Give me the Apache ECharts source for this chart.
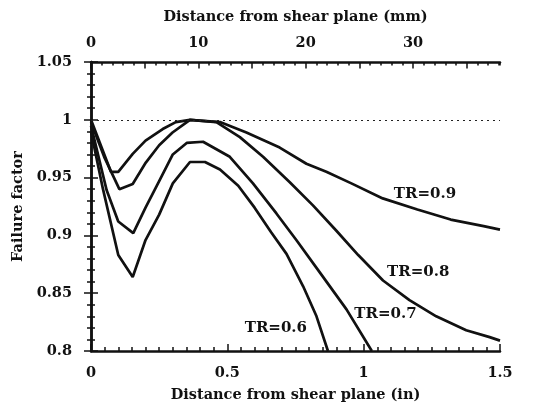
<!DOCTYPE html>
<html>
<head>
<meta charset="utf-8">
<script src="https://cdn.jsdelivr.net/npm/echarts@6/dist/echarts.min.js"></script>
<style>
html,body{margin:0;padding:0;background:#fff;}
#c{width:538px;height:409px;}
</style>
</head>
<body>
<div id="c"></div>
<script>
// ---- data ----
const seriesNames = ['TR=0.9', 'TR=0.8', 'TR=0.7', 'TR=0.6'];
const tr09 = [[0,1.0],[0.073,0.955],[0.1,0.955],[0.153,0.9705],[0.2,0.982],[0.263,0.992],[0.311,0.998],[0.363,1.0],[0.473,0.998],[0.57,0.989],[0.692,0.976],[0.79,0.962],[0.863,0.955],[0.955,0.945],[1.07,0.932],[1.197,0.9224],[1.319,0.9137],[1.44,0.908],[1.5,0.905]];
const tr08 = [[0,0.998],[0.05,0.967],[0.104,0.94],[0.153,0.9445],[0.201,0.963],[0.25,0.978],[0.299,0.989],[0.363,1.0],[0.46,0.998],[0.546,0.985],[0.631,0.968],[0.729,0.946],[0.814,0.926],[0.9,0.904],[0.98,0.883],[1.071,0.861],[1.168,0.844],[1.266,0.830],[1.376,0.818],[1.462,0.812],[1.5,0.809]];
const tr07 = [[0,0.995],[0.0575,0.939],[0.1,0.912],[0.155,0.902],[0.2,0.924],[0.25,0.947],[0.3,0.97],[0.351,0.98],[0.411,0.981],[0.509,0.968],[0.594,0.945],[0.68,0.919],[0.753,0.896],[0.839,0.868],[0.937,0.836],[1.03,0.80]];
const tr06 = [[0,0.99],[0.044,0.94],[0.1,0.883],[0.153,0.864],[0.2,0.896],[0.25,0.918],[0.3,0.945],[0.363,0.9635],[0.418,0.9635],[0.473,0.957],[0.54,0.943],[0.6,0.924],[0.66,0.903],[0.717,0.884],[0.778,0.856],[0.827,0.830],[0.869,0.80]];
const seriesData = [tr09, tr08, tr07, tr06];
// label anchor points (data coordinates) for the curve annotations
const labelAnchors = [[1.225,0.9356],[1.2,0.868],[1.08,0.832],[0.678,0.820]];
const refLineValue = 1.0;
const yTicks = {min:0.8, max:1.05, interval:0.05};
const xInTicks = {min:0, max:1.5, interval:0.5};
const xMmTicks = {min:0, max:38.1, interval:5, minorInterval:1};
const xMmLabels = [0, 10, 20, 30];

// ---- chart ----
const FONT = 'DejaVu Serif';
const txt = {fontFamily: FONT, fontSize: 14.5, fontWeight: 'bold', color: '#111'};
const axisLine = {show: true, lineStyle: {color: '#111', width: 2.5}};

const chart = echarts.init(document.getElementById('c'), null, {renderer: 'canvas'});

const series = seriesData.map((d, i) => ({
  name: seriesNames[i],
  type: 'line',
  xAxisIndex: 0,
  yAxisIndex: 0,
  data: d,
  symbol: 'none',
  smooth: false,
  silent: true,
  lineStyle: {color: '#111', width: 2.7},
  z: 3,
  markPoint: {
    silent: true,
    symbol: 'circle',
    symbolSize: 0,
    data: [{coord: labelAnchors[i], value: seriesNames[i]}],
    label: {show: true, position: 'inside', formatter: seriesNames[i], ...txt, fontSize: 15}
  },
  markLine: i === 0 ? {
    silent: true,
    symbol: 'none',
    label: {show: false},
    lineStyle: {color: '#222', type: [2, 4], width: 1},
    data: [{yAxis: refLineValue}]
  } : undefined
}));

chart.setOption({
  animation: false,
  backgroundColor: '#fff',
  grid: {left: 91, right: 38, top: 62, bottom: 58},
  xAxis: [
    {
      type: 'value', position: 'bottom',
      min: xInTicks.min, max: xInTicks.max, interval: xInTicks.interval,
      name: 'Distance from shear plane (in)', nameLocation: 'middle', nameGap: 37,
      nameTextStyle: {...txt},
      axisLine: axisLine,
      axisTick: {show: true, inside: true, length: 7, lineStyle: {color: '#111', width: 1.5}},
      minorTick: {show: true, splitNumber: 10, length: 4, lineStyle: {color: '#111', width: 1.5}},
      axisLabel: {...txt, margin: 15, formatter: v => String(v)},
      splitLine: {show: false}
    },
    {
      type: 'value', position: 'top',
      min: xMmTicks.min, max: xMmTicks.max, interval: xMmTicks.interval,
      name: 'Distance from shear plane (mm)', nameLocation: 'middle', nameGap: 37,
      nameTextStyle: {...txt},
      axisLine: axisLine,
      axisTick: {show: true, inside: true, length: 6.5, lineStyle: {color: '#111', width: 1.5}},
      minorTick: {show: false},
      axisLabel: {...txt, margin: 11, showMaxLabel: false, formatter: v => (xMmLabels.indexOf(v) >= 0 ? String(v) : '')},
      splitLine: {show: false}
    },
    {
      type: 'value', position: 'top',
      min: xMmTicks.min, max: xMmTicks.max, interval: xMmTicks.minorInterval,
      axisLine: {show: false},
      axisTick: {show: true, inside: true, length: 3.5, lineStyle: {color: '#111', width: 1.5}},
      axisLabel: {show: false},
      splitLine: {show: false}
    }
  ],
  yAxis: [
    {
      type: 'value', position: 'left',
      min: yTicks.min, max: yTicks.max, interval: yTicks.interval,
      name: 'Failure factor', nameLocation: 'middle', nameGap: 62, nameRotate: 90,
      nameTextStyle: {...txt},
      axisLine: axisLine,
      axisTick: {show: true, inside: true, length: 7, lineStyle: {color: '#111', width: 1.5}},
      minorTick: {show: true, splitNumber: 5, length: 4, lineStyle: {color: '#111', width: 1.5}},
      axisLabel: {...txt, margin: 19, formatter: v => String(+v.toFixed(2))},
      splitLine: {show: false}
    },
    {
      type: 'value', position: 'right',
      min: yTicks.min, max: yTicks.max, interval: yTicks.interval,
      axisLine: axisLine,
      axisTick: {show: true, inside: true, length: 7, lineStyle: {color: '#111', width: 1.5}},
      minorTick: {show: true, splitNumber: 5, length: 4, lineStyle: {color: '#111', width: 1.5}},
      axisLabel: {show: false},
      splitLine: {show: false}
    }
  ],
  series: series
});
</script>
</body>
</html>
